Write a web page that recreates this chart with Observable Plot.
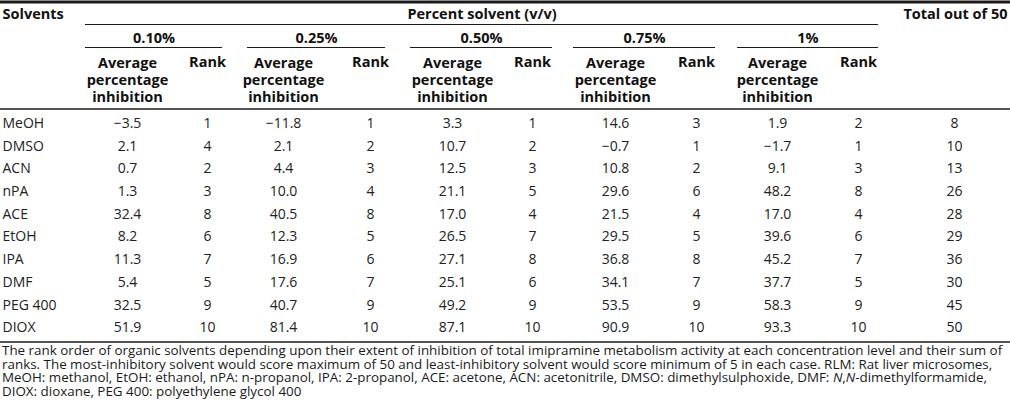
<!DOCTYPE html>
<html>
<head>
<meta charset="utf-8">
<script src="https://cdn.jsdelivr.net/npm/d3@7"></script>
<script src="https://cdn.jsdelivr.net/npm/@observablehq/plot@0.6"></script>
<style>
  html, body { margin: 0; padding: 0; background: #fff; }
  #wrap { width: 1010px; height: 410px; overflow: hidden; }
  #note { font-family: "Open Sans", sans-serif; font-size: 13.4px; line-height: 13.7px; color: #1a1a1a; white-space: nowrap; padding-left: 2px; margin-top: 0; }
  svg { display: block; }
</style>
</head>
<body>
<div id="wrap"></div>
<script>
// ---- data ----
const solvents = ["MeOH", "DMSO", "ACN", "nPA", "ACE", "EtOH", "IPA", "DMF", "PEG 400", "DIOX"];
const concentrations = ["0.10%", "0.25%", "0.50%", "0.75%", "1%"];
const avg010 = [-3.5, 2.1, 0.7, 1.3, 32.4, 8.2, 11.3, 5.4, 32.5, 51.9];
const rank010 = [1, 4, 2, 3, 8, 6, 7, 5, 9, 10];
const avg025 = [-11.8, 2.1, 4.4, 10.0, 40.5, 12.3, 16.9, 17.6, 40.7, 81.4];
const rank025 = [1, 2, 3, 4, 8, 5, 6, 7, 9, 10];
const avg050 = [3.3, 10.7, 12.5, 21.1, 17.0, 26.5, 27.1, 25.1, 49.2, 87.1];
const rank050 = [1, 2, 3, 5, 4, 7, 8, 6, 9, 10];
const avg075 = [14.6, -0.7, 10.8, 29.6, 21.5, 29.5, 36.8, 34.1, 53.5, 90.9];
const rank075 = [3, 1, 2, 6, 4, 5, 8, 7, 9, 10];
const avg100 = [1.9, -1.7, 9.1, 48.2, 17.0, 39.6, 45.2, 37.7, 58.3, 93.3];
const rank100 = [2, 1, 3, 8, 4, 6, 7, 5, 9, 10];
const totals = [8, 10, 13, 26, 28, 29, 36, 30, 45, 50];
const headerTitle = "Percent solvent (v/v)";
const headerSolvents = "Solvents";
const headerTotal = "Total out of 50";
const headerAvg = "Average\npercentage\ninhibition";
const headerRank = "Rank";
const footnoteLines = [
  "The rank order of organic solvents depending upon their extent of inhibition of total imipramine metabolism activity at each concentration level and their sum of",
  "ranks. The most-inhibitory solvent would score maximum of 50 and least-inhibitory solvent would score minimum of 5 in each case. RLM: Rat liver microsomes,",
  "MeOH: methanol, EtOH: ethanol, nPA: n-propanol, IPA: 2-propanol, ACE: acetone, ACN: acetonitrile, DMSO: dimethylsulphoxide, DMF: <i>N</i>,<i>N</i>-dimethylformamide,",
  "DIOX: dioxane, PEG 400: polyethylene glycol 400"
];

// ---- layout ----
const avgSeries = [avg010, avg025, avg050, avg075, avg100];
const rankSeries = [rank010, rank025, rank050, rank075, rank100];
const avgX = [127, 283, 452, 615, 777];
const rankX = [207, 370, 532, 696, 858];
const groupX1 = [85, 247, 410, 573, 737];
const groupX2 = [222, 385, 552, 715, 878];
const totalX = 954;
const rowY0 = 123, rowStep = 22.7;
const fmt = v => v.toFixed(1).replace("-", "\u2212");

const names = solvents.map((s, i) => ({text: s, y: rowY0 + i * rowStep}));
const cells = [];
solvents.forEach((s, i) => {
  const y = rowY0 + i * rowStep;
  concentrations.forEach((c, j) => {
    cells.push({x: avgX[j], y, text: fmt(avgSeries[j][i])});
    cells.push({x: rankX[j], y, text: String(rankSeries[j][i])});
  });
  cells.push({x: totalX, y, text: String(totals[i])});
});

const groups = concentrations.map((c, j) => ({c, x1: groupX1[j], x2: groupX2[j], xm: (groupX1[j] + groupX2[j]) / 2, ax: avgX[j], rx: rankX[j]}));

const font = "'Open Sans', sans-serif";
const hdr = {fontSize: 14.5, fontWeight: "bold", fill: "#111"};
const chart = Plot.plot({
  width: 1010,
  height: 344,
  margin: 0,
  x: {domain: [0, 1010], range: [0, 1010], axis: null},
  y: {domain: [0, 344], range: [0, 344], axis: null},
  style: {fontFamily: font, background: "#fff", color: "#1a1a1a"},
  marks: [
    Plot.ruleY([1.5], {x1: 0, x2: 1010, stroke: "#1a1a1a", strokeWidth: 3}),
    Plot.text([headerSolvents], {x: 2, y: 14, text: d => d, textAnchor: "start", ...hdr}),
    Plot.text([headerTitle], {x: (85 + 878) / 2, y: 14, text: d => d, ...hdr}),
    Plot.text([headerTotal], {x: 955, y: 14, text: d => d, ...hdr}),
    Plot.ruleY([24], {x1: 85, x2: 878, stroke: "#1a1a1a", strokeWidth: 1.2}),
    Plot.text(groups, {x: "xm", y: 38, text: "c", letterSpacing: "1px", ...hdr}),
    Plot.ruleY(groups, {y: 47, x1: "x1", x2: "x2", stroke: "#1a1a1a", strokeWidth: 1.2}),
    Plot.text(groups, {x: "ax", y: 79, text: () => headerAvg, lineHeight: 1.17, ...hdr}),
    Plot.text(groups, {x: "rx", y: 62, text: () => headerRank, ...hdr}),
    Plot.ruleY([108.5], {x1: 0, x2: 1010, stroke: "#1a1a1a", strokeWidth: 1.3}),
    Plot.text(names, {x: 2, y: "y", text: "text", textAnchor: "start", fontSize: 14, fill: "#222"}),
    Plot.text(cells, {x: "x", y: "y", text: "text", fontSize: 14, fill: "#222"}),
    Plot.ruleY([341.5], {x1: 0, x2: 1010, stroke: "#1a1a1a", strokeWidth: 1.3})
  ]
});
const wrap = document.getElementById("wrap");
wrap.appendChild(chart);
const note = document.createElement("div");
note.id = "note";
note.innerHTML = footnoteLines.join("<br>");
wrap.appendChild(note);
</script>
</body>
</html>
